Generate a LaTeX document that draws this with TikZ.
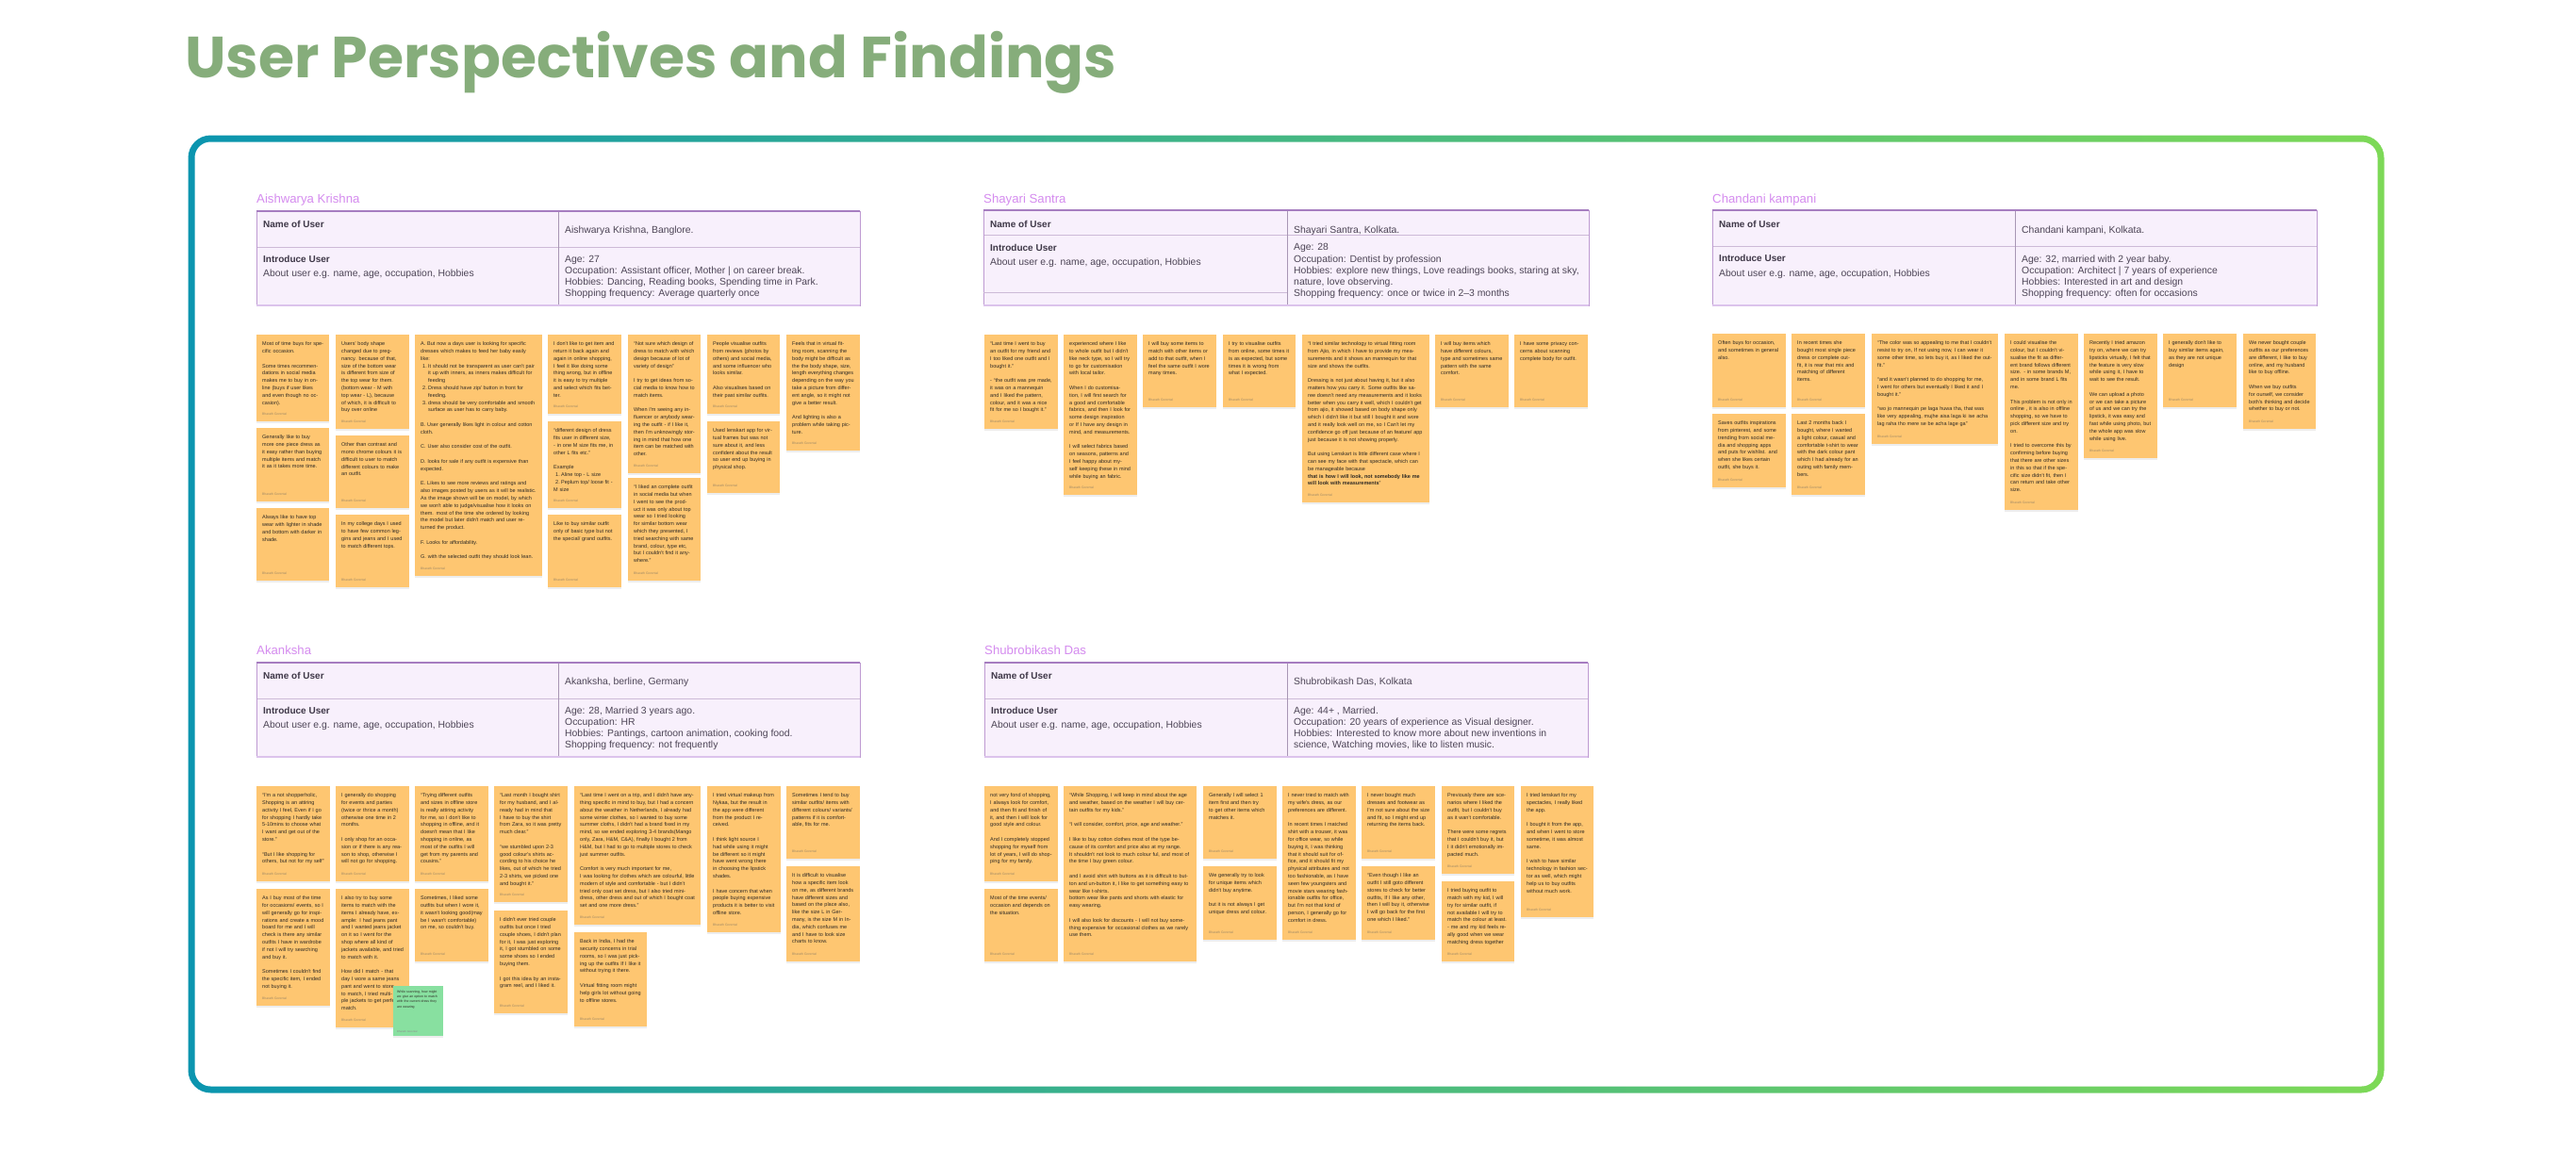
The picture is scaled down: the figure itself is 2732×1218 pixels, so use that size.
\documentclass[tikz,border=0pt]{standalone}
\usepackage{fontspec}
\usepackage{graphicx}
\newfontfamily\stfont{Liberation Sans}
\newfontfamily\tabfont{Liberation Sans}
\newfontfamily\titlefont{Poppins}
\definecolor{stickyc}{HTML}{FEC671}
\definecolor{greenst}{HTML}{88E0A0}
\definecolor{stxt}{HTML}{2E2A24}
\definecolor{stauth}{HTML}{A08A66}
\definecolor{titlec}{HTML}{86AD7B}
\definecolor{secc}{HTML}{D58CEF}
\definecolor{tabfillc}{HTML}{F8F0FC}
\definecolor{tabborderc}{HTML}{BE9AD2}
\definecolor{tabinnerc}{HTML}{CDBAD7}
\definecolor{tabdivc}{HTML}{A896B4}
\definecolor{tabtopc}{HTML}{A67DC0}
\definecolor{tabbotc}{HTML}{DCC3EC}
\definecolor{tabtxtc}{HTML}{4D4556}
\definecolor{tabheadc}{HTML}{3E3747}
\definecolor{frameL}{HTML}{0B95AF}
\definecolor{frameR}{HTML}{7DD957}
\newcommand{\gap}{\par\vspace{7.8pt}}
\newcommand{\itm}[2]{\par\noindent\hangindent=8pt\hangafter=1\makebox[8pt][l]{\hspace{2pt}#1}#2}
\tikzset{
  stickybox/.style={fill=stickyc, draw=none, inner sep=0, outer sep=0},
  stshadow/.style={fill=black, opacity=0.07},
  stickytext/.style={font=\stfont\fontsize{5.5}{7.8}\selectfont, text=stxt, inner sep=0, align=left},
  stickyauthor/.style={font=\stfont\fontsize{3.4}{4}\selectfont, text=stauth, inner sep=0},
  tabtext/.style={font=\tabfont\fontsize{10.4}{12}\selectfont, text=tabtxtc, inner sep=0, anchor=base west},
  tabhead/.style={font=\tabfont\bfseries\fontsize{10}{12}\selectfont, text=tabheadc, inner sep=0, anchor=base west},
  sectitle/.style={font=\tabfont\fontsize{13.2}{15}\selectfont, text=secc, inner sep=0, anchor=base west},
  tabfill/.style={fill=tabfillc},
  tabborder/.style={draw=tabborderc, line width=1pt},
  tabinner/.style={draw=tabinnerc, line width=1pt},
  tabdiv/.style={draw=tabdivc, line width=1pt},
  tabtop/.style={draw=tabtopc, line width=2pt},
  tabbot/.style={draw=tabbotc, line width=2.5pt},
}
% sticky: name, x1, y1, x2, y2, text
\newcommand{\stk}[6]{%
  \pgfmathsetmacro{\stw}{#4-#2-12}%
  \pgfmathsetmacro{\stwd}{#4-#2}%
  \pgfmathsetmacro{\sth}{#5-#3}%
  \fill[stshadow] (#2-0.3,#3+1.0) rectangle (#4+0.3,#5+1.8);
  \node[stickybox, minimum width=\stwd pt, minimum height=\sth pt, anchor=north west] (#1) at (#2,#3) {};
  \node[stickytext, text width=\stw pt, anchor=north west] (#1t) at (#2+6,#3+7.5) {#6};
  \node[stickyauthor, anchor=base west] (#1a) at (#2+6,#5-6.5) {Bharath Gorental};
}
% table: x1, y1, xd, yd, x2, y2
\newcommand{\tbl}[6]{%
  \fill[tabfill] (#1,#2) rectangle (#5,#6);
  \draw[tabinner] (#1,#4) -- (#5,#4);
  \draw[tabdiv] (#3,#2) -- (#3,#6);
  \draw[tabborder] (#1,#2) rectangle (#5,#6);
  \draw[tabtop] (#1,#2) -- (#5,#2);
  \draw[tabbot] (#1,#6) -- (#5,#6);
}
\begin{document}
\begin{tikzpicture}[x=1pt,y=-1pt]
\useasboundingbox (0,0) rectangle (2732,1218);
\fill[white] (0,0) rectangle (2732,1218);
% title
\node[anchor=base west, inner sep=0, text=titlec] (title) at (196,82) {\resizebox{988pt}{\height}{\titlefont\bfseries\fontsize{61.5}{72}\selectfont User Perspectives and Findings}};
% gradient frame
\shade[left color=frameL, right color=frameR, rounded corners=24pt] (199.5,143.5) rectangle (2528.5,1159.5);
\fill[white, rounded corners=17pt] (206.5,150.5) rectangle (2521.5,1152.5);

% ---------------- section 1: Aishwarya Krishna
\node[sectitle] (s1) at (272,215.5) {Aishwarya Krishna};
\tbl{272}{224}{592}{262}{912}{324}
\node[tabhead] (t1h1) at (279,241.2) {Name of User};
\node[tabtext] (t1v1) at (599,247.2) {Aishwarya Krishna, Banglore.};
\node[tabhead] (t1h2) at (279,278.2) {Introduce User};
\node[tabtext] (t1a2) at (279,293.2) {About user e.g. name, age, occupation, Hobbies};
\node[tabtext] (t1r1) at (599,278.2) {Age: 27};
\node[tabtext] (t1r2) at (599,290.2) {Occupation: Assistant officer, Mother | on career break.};
\node[tabtext] (t1r3) at (599,302.2) {Hobbies: Dancing, Reading books, Spending time in Park.};
\node[tabtext] (t1r4) at (599,314.2) {Shopping frequency: Average quarterly once};

% ---------------- section 2: Shayari Santra
\node[sectitle] (s2) at (1043,215.5) {Shayari Santra};
\tbl{1043}{223}{1365}{249}{1685}{324}
\draw[tabinner] (1043,310) -- (1365,310);
\node[tabhead] (t2h1) at (1050,241.2) {Name of User};
\node[tabtext] (t2v1) at (1372,247.2) {Shayari Santra, Kolkata.};
\node[tabhead] (t2h2) at (1050,266.2) {Introduce User};
\node[tabtext] (t2a2) at (1050,281.2) {About user e.g. name, age, occupation, Hobbies};
\node[tabtext] (t2r1) at (1372,265.2) {Age: 28};
\node[tabtext] (t2r2) at (1372,278.2) {Occupation: Dentist by profession};
\node[tabtext] (t2r3) at (1372,290.2) {Hobbies: explore new things, Love readings books, staring at sky,};
\node[tabtext] (t2r4) at (1372,302.2) {nature, love observing.};
\node[tabtext] (t2r5) at (1372,314.2) {Shopping frequency: once or twice in 2–3 months};

% ---------------- section 3: Chandani kampani
\node[sectitle] (s3) at (1816,215.5) {Chandani kampani};
\tbl{1816}{223}{2137}{261}{2457}{324}
\node[tabhead] (t3h1) at (1823,241.2) {Name of User};
\node[tabtext] (t3v1) at (2144,247.2) {Chandani kampani, Kolkata.};
\node[tabhead] (t3h2) at (1823,277.2) {Introduce User};
\node[tabtext] (t3a2) at (1823,293.2) {About user e.g. name, age, occupation, Hobbies};
\node[tabtext] (t3r1) at (2144,278.2) {Age: 32, married with 2 year baby.};
\node[tabtext] (t3r2) at (2144,290.2) {Occupation: Architect | 7 years of experience};
\node[tabtext] (t3r3) at (2144,302.2) {Hobbies: Interested in art and design};
\node[tabtext] (t3r4) at (2144,314.2) {Shopping frequency: often for occasions};

% ---------------- section 4: Akanksha
\node[sectitle] (s4) at (272,694.5) {Akanksha};
\tbl{272}{703}{592}{741}{912}{803}
\node[tabhead] (t4h1) at (279,720.2) {Name of User};
\node[tabtext] (t4v1) at (599,726.2) {Akanksha, berline, Germany};
\node[tabhead] (t4h2) at (279,757.2) {Introduce User};
\node[tabtext] (t4a2) at (279,772.2) {About user e.g. name, age, occupation, Hobbies};
\node[tabtext] (t4r1) at (599,757.2) {Age: 28, Married 3 years ago.};
\node[tabtext] (t4r2) at (599,769.2) {Occupation: HR};
\node[tabtext] (t4r3) at (599,781.2) {Hobbies: Pantings, cartoon animation, cooking food.};
\node[tabtext] (t4r4) at (599,793.2) {Shopping frequency: not frequently};

% ---------------- section 5: Shubrobikash Das
\node[sectitle] (s5) at (1044,694.5) {Shubrobikash Das};
\tbl{1044}{703}{1365}{741}{1684}{803}
\node[tabhead] (t5h1) at (1051,720.2) {Name of User};
\node[tabtext] (t5v1) at (1372,726.2) {Shubrobikash Das, Kolkata};
\node[tabhead] (t5h2) at (1051,757.2) {Introduce User};
\node[tabtext] (t5a2) at (1051,772.2) {About user e.g. name, age, occupation, Hobbies};
\node[tabtext] (t5r1) at (1372,757.2) {Age: 44+ , Married.};
\node[tabtext] (t5r2) at (1372,769.2) {Occupation: 20 years of experience as Visual designer.};
\node[tabtext] (t5r3) at (1372,781.2) {Hobbies: Interested to know more about new inventions in};
\node[tabtext] (t5r4) at (1372,793.2) {science, Watching movies, like to listen music.};

% ================= stickies group 1
\stk{g1a}{272}{355}{349}{447}{Most of time buys for specific occasion.\gap Some times recommendations in social media makes me to buy in online (buys if user likes and even though no occasion).}
\stk{g1b}{272}{454}{349}{532}{Generally like to buy more one piece dress as it easy rather than buying multiple items and match it as it takes more time.}
\stk{g1c}{272}{539}{349}{616}{Always like to have top wear with lighter in shade and bottom with darker in shade.}
\stk{g1d}{356}{355}{434}{455}{Users' body shape changed due to pregnancy. because of that, size of the bottom wear is different from size of the top wear for them. (bottom wear - M with top wear - L), because of which, it is difficult to buy over online}
\stk{g1e}{356}{462}{434}{539}{Other than contrast and mono chrome colours it is difficult to user to match different colours to make an outfit.}
\stk{g1f}{356}{546}{434}{623}{In my college days I used to have few common leggins and jeans and I used to match different tops.}
\stk{g1g}{440}{355}{575}{611}{A. But now a days user is looking for specific dresses which makes to feed her baby easily like:\itm{1.}{It should not be transparent as user can't pair it up with inners, as inners makes difficult for feeding}\itm{2.}{Dress should have zip/ button in front for feeding.}\itm{3.}{dress should be very comfortable and smooth surface as user has to carry baby.}\gap B. User generally likes light in colour and cotton cloth.\gap C. User also consider cost of the outfit.\gap D. looks for sale if any outfit is expensive than expected.\gap E. Likes to see more reviews and ratings and also images posted by users as it will be realistic. As the image shown will be on model, by which we won't able to judge/visualise how it looks on them. most of the time she ordered by looking the model but later didn't match and user returned the product.\gap F. Looks for affordability.\gap G. with the selected outfit they should look lean.}
\stk{g1h}{581}{355}{659}{439}{I don't like to get item and return it back again and again in online shopping, I feel it like doing some thing wrong, but in offline it is easy to try multiple and select which fits better.}
\stk{g1i}{581}{447}{659}{539}{“different design of dress fits user in different size, - in one M size fits me, in other L fits etc.”\gap Example\itm{1.}{Aline top - L size}\itm{2.}{Peplum top/ loose fit - M size}}
\stk{g1j}{581}{546}{659}{623}{Like to buy similar outfit only of basic type but not the special/ grand outfits.}
\stk{g1k}{666}{355}{743}{502}{“Not sure which design of dress to match with which design because of lot of variety of design”\gap I try to get ideas from social media to know how to match items.\gap When I'm seeing any influencer or anybody wearing the outfit - if I like it, then I'm unknowingly storing in mind that how one item can be matched with other.}
\stk{g1l}{666}{507}{743}{616}{“I liked an complete outfit in social media but when I went to see the product it was only about top wear so I tried looking for similar bottom wear which they presented, I tried searching with same brand, colour, type etc, but I couldn't find it anywhere.”}
\stk{g1m}{750}{355}{827}{439}{People visualise outfits from reviews (photos by others) and social media, and some influencer who looks similar.\gap Also visualises based on their past similar outfits.}
\stk{g1n}{750}{447}{827}{523}{Used lenskart app for virtual frames but was not sure about it, and less confident about the result so user end up buying in physical shop.}
\stk{g1o}{834}{355}{912}{478}{Feels that in virtual fitting room, scanning the body might be difficult as the the body shape, size, length everything changes depending on the way you take a picture from different angle, so it might not give a better result.\gap And lighting is also a problem while taking picture.}

% ================= stickies group 2
\stk{g2a}{1044}{355}{1122}{455}{“Last time I went to buy an outfit for my friend and I too liked one outfit and I bought it.”\gap - “the outfit was pre made, it was on a mannequin and I liked the pattern, colour, and it was a nice fit for me so I bought it.”}
\stk{g2b}{1128}{355}{1206}{525}{experienced where I like to whole outfit but I didn't like neck type, so I will try to go for customisation with local tailor.\gap When I do customisation, I will first search for a good and comfortable fabrics, and then I look for some design inspiration or If I have any design in mind, and measurements.\gap I will select fabrics based on seasons, patterns and I feel happy about myself keeping these in mind while buying an fabric.}
\stk{g2c}{1212}{355}{1290}{432}{I will buy some items to match with other items or add to that outfit, when I feel the same outfit I wore many times.}
\stk{g2d}{1297}{355}{1374}{432}{I try to visualise outfits from online, some times it is as expected, but some times it is wrong from what I expected.}
\stk{g2e}{1381}{355}{1516}{533}{“I tried similar technology to virtual fitting room from Ajio, in which I have to provide my measurements and it shows an mannequin for that size and shows the outfits.\gap Dressing is not just about having it, but it also matters how you carry it. Some outfits like saree doesn't need any measurements and it looks better when you carry it well, which I couldn't get from ajio, it showed based on body shape only which I didn't like it but still I bought it and wore and it really look well on me, so I Can't let my confidence go off just because of an feature/ app just because it is not showing properly.\gap But using Lenskart is little different case where I can see my face with that spectacle, which can be manageable because\par\textbf{that is how I will look, not somebody like me will look with measurements}”}
\stk{g2f}{1522}{355}{1600}{432}{I will buy items which have different colours, type and sometimes same pattern with the same comfort.}
\stk{g2g}{1606}{355}{1684}{432}{I have some privacy concerns about scanning complete body for outfit.}

% ================= stickies group 3
\stk{g3a}{1816}{354}{1894}{432}{Often buys for occasion, and sometimes in general also.}
\stk{g3b}{1816}{439}{1894}{517}{Saves outfits inspirations from pinterest, and some trending from social media and shopping apps and puts for wishlist. and when she likes certain outfit, she buys it.}
\stk{g3c}{1900}{354}{1978}{432}{In recent times she bought most single piece dress or complete outfit, it is rear that mix and matching of different items.}
\stk{g3d}{1900}{439}{1978}{525}{Last 2 months back I bought, where I wanted a light colour, casual and comfortable t-shirt to wear with the dark colour pant which I had already for an outing with family members.}
\stk{g3e}{1985}{354}{2119}{471}{“The color was so appealing to me that I couldn't resist to try on, If not using now, I can wear it some other time, so lets buy it, as I liked the outfit.”\gap “and it wasn't planned to do shopping for me, I went for others but eventually I liked it and I bought it.”\gap “wo jo mannequin pe laga huwa tha, that was like very appealing, mujhe aisa laga ki ise acha lag raha tho mere se be acha lage ga”}
\stk{g3f}{2126}{354}{2204}{541}{I could visualise the colour, but I couldn't visualise the fit as different brand follows different size. - in some brands M, and in some brand L fits me.\gap This problem is not only in online , it is also in offline shopping, so we have to pick different size and try on.\gap I tried to overcome this by confirming before buying that there are other sizes in this so that if the specific size didn't fit, then I can return and take other size.}
\stk{g3g}{2210}{354}{2288}{486}{Recently I tried amazon try on, where we can try lipsticks virtually, I felt that the feature is very slow while using it, I have to wait to see the result.\gap We can upload a photo or we can take a picture of us and we can try the lipstick, it was easy and fast while using photo, but the whole app was slow while using live.}
\stk{g3h}{2294}{354}{2372}{432}{I generally don't like to buy similar items again, as they are not unique design}
\stk{g3i}{2379}{354}{2456}{455}{We never bought couple outfits as our preferences are different, I like to buy online, and my husband like to buy offline.\gap When we buy outfits for ourself, we consider both's thinking and decide whether to buy or not.}

% ================= stickies group 4
\stk{g4a}{272}{834}{350}{935}{“I'm a not shopperholic, Shopping is an attiring activity I feel, Even if I go for shopping I hardly take 5-10mins to choose what I want and get out of the store.”\gap “But I like shopping for others, but not for my self”}
\stk{g4b}{272}{943}{350}{1067}{As I buy most of the time for occasions/ events, so I will generally go for inspirations and create a mood board for me and I will check is there any similar outfits I have in wardrobe if not I will try searching and buy it.\gap Sometimes I couldn't find the specific item, I ended not buying it.}
\stk{g4c}{356}{834}{434}{935}{I generally do shopping for events and parties (twice or thrice a month) otherwise one time in 2 months.\gap I only shop for an occasion or if there is any reason to shop, otherwise I will not go for shopping.}
\stk{g4d}{356}{943}{434}{1090}{I also try to buy some items to match with the items I already have, example: I had jeans pant and I wanted jeans jacket on it so I went for the shop where all kind of jackets available, and tried to match with it.\gap How did I match - that day I wore a same jeans pant and went to store to match, I tried multiple jackets to get perfect match.}
\stk{g4e}{440}{834}{518}{935}{“Trying different outfits and sizes in offline store is really attiring activity for me, so I don't like to shopping in offline, and it doesn't mean that I like shopping in online, as most of the outfits I will get from my parents and cousins.”}
\stk{g4f}{440}{943}{518}{1020}{Sometimes, I liked some outfits but when I wore it, it wasn't looking good(may be I wasn't comfortable) on me, so couldn't buy.}
\stk{g4h}{524}{834}{602}{957}{“Last month I bought shirt for my husband, and I already had in mind that I have to buy the shirt from Zara, so it was pretty much clear.”\gap “we stumbled upon 2-3 good colour's shirts according to his choice he likes, out of which he tried 2-3 shirts, we picked one and bought it.”}
\stk{g4i}{524}{966}{602}{1075}{I didn't ever tried couple outfits but once I tried couple shoes, I didn't plan for it, I was just exploring it, I got stumbled on some some shoes so I ended buying them.\gap I got this idea by an instagram reel, and I liked it.}
\stk{g4j}{609}{834}{743}{981}{“Last time I went on a trip, and I didn't have anything specific in mind to buy, but I had a concern about the weather in Netherlands, I already had some winter clothes, so I wanted to buy some summer cloths, I didn't had a brand fixed in my mind, so we ended exploring 3-4 brands(Mango only, Zara, H\&M, C\&A), finally I bought 2 from H\&M, but I had to go to multiple stores to check just summer outfits.\gap Comfort is very much important for me,\par I was looking for clothes which are colourful, little modern of style and comfortable - but I didn't tried only coat set dress, but I also tried mini-dress, other dress and out of which I bought coat set and one more dress.”}
\stk{g4k}{609}{989}{686}{1089}{Back in India, I had the security concerns in trial rooms, so I was just picking up the outfits If I like it without trying it there.\gap Virtual fitting room might help girls lot without going to offline stores.}
\stk{g4l}{750}{834}{828}{989}{I tried virtual makeup from Nykaa, but the result in the app were different from the product I received.\gap I think light source I had while using it might be different so it might have went wrong there in choosing the lipstick shades.\gap I have concern that when people buying expensive products it is better to visit offline store.}
\stk{g4m}{834}{834}{912}{911}{Sometimes I tend to buy similar outfits/ items with different colours/ variants/ patterns if it is comfortable, fits for me.}
\stk{g4n}{834}{919}{912}{1020}{It is difficult to visualise how a specific item look on me, as different brands have different sizes and based on the place also, like the size L in Germany, is the size M in India, which confuses me and I have to look size charts to know.}
% green sticky
\fill[stshadow] (416.7,1047) rectangle (470.3,1100.8);
\node[fill=greenst, inner sep=0, minimum width=53pt, minimum height=53pt, anchor=north west] (g4g) at (417,1046) {};
\node[font=\stfont\fontsize{3.5}{5.1}\selectfont, text=stxt, inner sep=0, align=left, text width=43pt, anchor=north west] (g4gt) at (421,1051) {While scanning, how might we give an option to match with the current dress they are wearing};
\node[stickyauthor, font=\stfont\fontsize{2.8}{3}\selectfont, text=black!45, anchor=base west] (g4ga) at (421,1095) {Bharath Gorental};

% ================= stickies group 5
\stk{g5a}{1044}{834}{1122}{935}{not very fond of shopping, I always look for comfort, and then fit and finish of it, and then I will look for good style and colour.\gap And I completely stopped shopping for myself from lot of years, I will do shopping for my family.}
\stk{g5b}{1044}{943}{1122}{1020}{Most of the time events/ occasion and depends on the situation.}
\stk{g5c}{1128}{834}{1269}{1020}{“While Shopping, I will keep in mind about the age and weather, based on the weather I will buy certain outfits for my kids.”\gap “I will consider, comfort, price, age and weather.”\gap I like to buy cotton clothes most of the type because of its comfort and price also at my range. It shouldn't not look to much colour ful, and most of the time I buy green colour.\gap and I avoid shirt with buttons as it is difficult to button and un-button it, I like to get something easy to wear like t-shirts.\par bottom wear like pants and shorts with elastic for easy wearing.\gap I will also look for discounts - I will not buy something expensive for occasional clothes as we rarely use them.}
\stk{g5d}{1276}{834}{1354}{911}{Generally I will select 1 item first and then try to get other items which matches it.}
\stk{g5e}{1276}{919}{1354}{997}{We generally try to look for unique items which didn't buy anytime.\gap but it is not always I get unique dress and colour.}
\stk{g5f}{1360}{834}{1438}{997}{I never tried to match with my wife's dress, as our preferences are different.\gap In recent times I matched shirt with a trouser, it was for office wear, so while buying it, I was thinking that it should suit for office, and it should fit my physical attributes and not too fashionable, as I have seen few youngsters and movie stars wearing fashionable outfits for office, but I'm not that kind of person, I generally go for comfort in dress.}
\stk{g5g}{1444}{834}{1522}{911}{I never bought much dresses and footwear as I'm not sure about the size and fit, so I might end up returning the items back.}
\stk{g5h}{1444}{919}{1522}{997}{“Even though I like an outfit I still goto different stores to check for better outfits, If I like any other, then I will buy it, otherwise I will go back for the first one which I liked.”}
\stk{g5i}{1529}{834}{1606}{927}{Previously there are scenarios where I liked the outfit, but I couldn't buy as it wan't comfortable.\gap There were some regrets that I couldn't buy it, but I it didn't emotionally impacted much.}
\stk{g5j}{1529}{935}{1606}{1020}{I tried buying outfit to match with my kid, I will try for similar outfit, if not available I will try to match the colour at least. - me and my kid feels really good when we wear matching dress together}
\stk{g5k}{1613}{834}{1690}{973}{I tried lenskart for my spectacles, I really liked the app.\gap I bought it from the app, and when I went to store sometime, it was almost same.\gap I wish to have similar technology in fashion sector as well, which might help us to buy outfits without much work.}
\end{tikzpicture}
\end{document}
